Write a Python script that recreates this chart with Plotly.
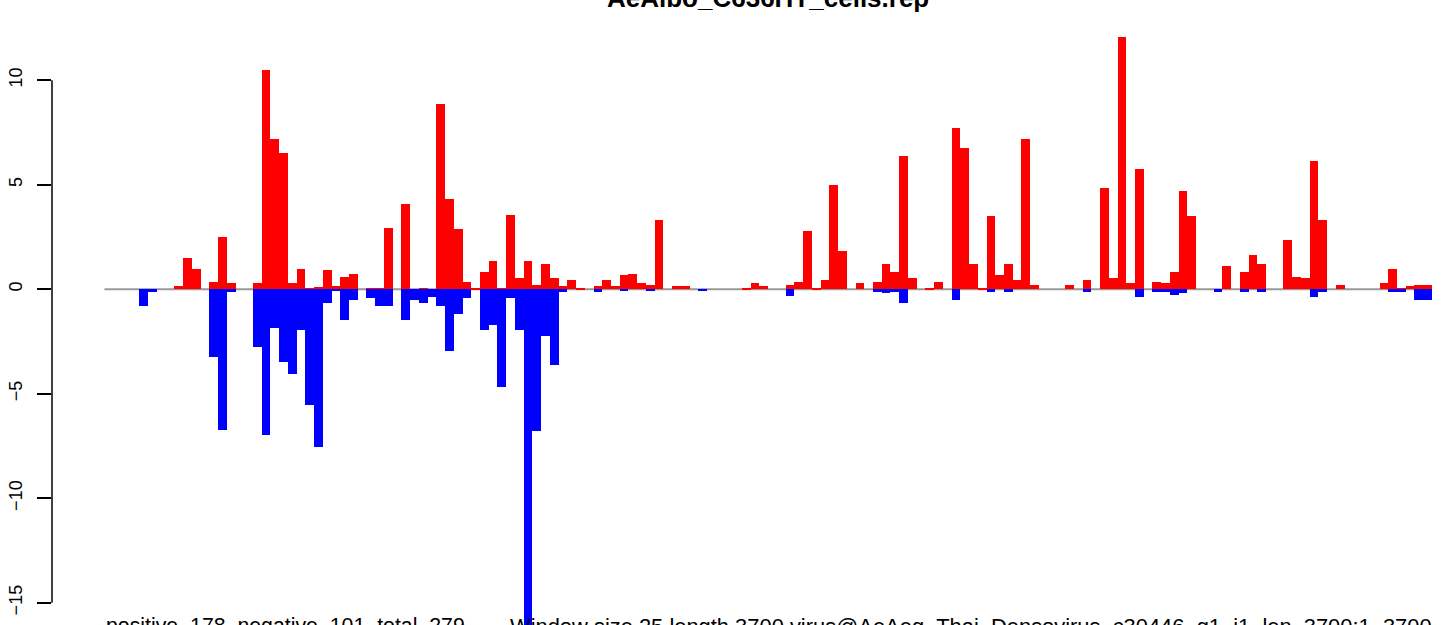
import plotly.graph_objects as go

# window index (window size 25, sequence length 3700)
windows = list(range(152))

positive = [
    0, 0, 0, 0, 0, 0, 0, 0, 0.16, 1.5,
    0.97, 0, 0.35, 2.5, 0.3, 0, 0, 0.3, 10.49, 7.19,
    6.52, 0.3, 0.97, 0.06, 0.1, 0.92, 0.16, 0.59, 0.73, 0,
    0.06, 0.06, 2.93, 0, 4.08, 0, 0.06, 0, 8.87, 4.32,
    2.89, 0.35, 0.06, 0.83, 1.35, 0.06, 3.55, 0.54, 1.35, 0.2,
    1.21, 0.54, 0.16, 0.45, 0.08, 0, 0.18, 0.46, 0.18, 0.7,
    0.75, 0.32, 0.22, 3.33, 0, 0.18, 0.18, 0, 0, 0,
    0, 0, 0, 0.08, 0.32, 0.18, 0, 0, 0.22, 0.37,
    2.77, 0.08, 0.46, 5.01, 1.85, 0, 0.32, 0, 0.37, 1.23,
    0.85, 6.4, 0.56, 0, 0.08, 0.37, 0, 7.74, 6.78, 1.23,
    0.08, 3.53, 0.7, 1.23, 0.46, 7.21, 0.22, 0, 0, 0,
    0.22, 0, 0.45, 0, 4.86, 0.55, 12.07, 0.3, 5.76, 0,
    0.36, 0.3, 0.83, 4.7, 3.51, 0, 0, 0, 1.11, 0,
    0.83, 1.64, 1.21, 0, 0, 2.36, 0.59, 0.54, 6.14, 3.32,
    0, 0.2, 0, 0, 0, 0, 0.3, 0.97, 0.06, 0.16,
    0.2, 0.2,
]

negative = [
    0, 0, 0, 0, -0.81, -0.15, 0, 0, 0, 0,
    0, 0, -3.22, -6.73, -0.13, 0, 0, -2.75, -6.97, -1.84,
    -3.5, -4.05, -1.95, -5.53, -7.53, -0.64, -0.1, -1.45, -0.51, 0,
    -0.42, -0.8, -0.8, 0, -1.45, -0.51, -0.65, -0.37, -0.8, -2.94,
    -1.17, -0.42, 0, -1.93, -1.69, -4.66, -0.4, -1.93, -17.0, -6.77,
    -2.22, -3.6, -0.13, 0, 0, 0, -0.15, 0, 0, -0.1,
    0, 0, -0.1, 0, 0, 0, 0, 0, -0.1, 0,
    0, 0, 0, 0, 0, 0, 0, 0, -0.33, 0,
    0, 0, 0, 0, 0, 0, 0, 0, -0.11, -0.16,
    -0.11, -0.64, 0, 0, 0, 0, 0, -0.49, 0, 0,
    0, -0.11, 0, -0.11, 0, 0, 0, 0, 0, 0,
    0, 0, -0.12, 0, 0, 0, 0, 0, -0.37, 0,
    -0.12, -0.13, -0.27, -0.18, 0, 0, 0, -0.13, 0, 0,
    -0.13, 0, -0.13, 0, 0, 0, 0, 0, -0.37, -0.13,
    0, 0, 0, 0, 0, 0, 0, -0.13, -0.13, 0,
    -0.51, -0.51,
]

y_ticks = [-15, -10, -5, 0, 5, 10]
title_text = "AeAlbo_C636HT_cells.rep"
stats_text = "positive  178  negative  101  total  279"
info_text = "Window size 25 length 3700 virus@AeAeg_Thai_Densovirus_c30446_g1_i1_len_3700:1..3700"

W, H = 1444, 625
ml = 52
px_per_unit_x = 8.733
bar_left_px = 104.5
x0 = -0.5 - (bar_left_px - ml) / px_per_unit_x
x1 = x0 + (W - ml) / px_per_unit_x

px_per_unit_y = 20.9
zero_px = 289.3
y_top = zero_px / px_per_unit_y
y_bot = -(H - zero_px) / px_per_unit_y

fig = go.Figure()
fig.add_trace(go.Bar(x=windows, y=positive, width=1.0,
                     marker=dict(color="#FF0000", line=dict(width=0)),
                     hoverinfo="y", name="positive"))
fig.add_trace(go.Bar(x=windows, y=negative, width=1.0,
                     marker=dict(color="#0000FF", line=dict(width=0)),
                     hoverinfo="y", name="negative"))

# grey baseline across the bar range
fig.add_shape(type="line", xref="x", yref="y",
              x0=windows[0] - 0.5, x1=windows[-1] + 0.5, y0=0, y1=0,
              line=dict(color="#999999", width=2), layer="below")
# R-style y axis line between first and last tick
fig.add_shape(type="line", xref="paper", yref="y",
              x0=0, x1=0, y0=y_ticks[0], y1=y_ticks[-1],
              line=dict(color="black", width=1.5))

fig.add_annotation(text="<b>" + title_text + "</b>", xref="paper", yref="paper",
                   x=(768 - ml) / (W - ml), y=1.0, xanchor="center", yanchor="middle",
                   yshift=2, showarrow=False,
                   font=dict(family="Liberation Sans, Arial", size=26, color="black"))
fig.add_annotation(text=stats_text, xref="paper", yref="paper",
                   x=(104 - ml) / (W - ml), y=0, xanchor="left", yanchor="top",
                   yshift=13, showarrow=False,
                   font=dict(family="Liberation Sans, Arial", size=21.3, color="black"))
fig.add_annotation(text=info_text, xref="paper", yref="paper",
                   x=(508 - ml) / (W - ml), y=0, xanchor="left", yanchor="top",
                   yshift=13, showarrow=False,
                   font=dict(family="Liberation Sans, Arial", size=21.9, color="black"))

fig.update_layout(
    width=W, height=H,
    margin=dict(l=ml, r=0, t=0, b=0),
    plot_bgcolor="white", paper_bgcolor="white",
    barmode="overlay", bargap=0, showlegend=False,
    xaxis=dict(range=[x0, x1], visible=False, fixedrange=True),
    yaxis=dict(range=[y_bot, y_top], tickmode="array", tickvals=y_ticks,
               ticktext=[str(v).replace("-", "\u2212") for v in y_ticks],
               ticks="outside", ticklen=14, tickwidth=1.5, tickcolor="black",
               tickangle=-90, showgrid=False, zeroline=False, showline=False,
               automargin=False, ticklabelstandoff=8,
               tickfont=dict(family="Liberation Sans, Arial", size=18, color="black")),
)

fig.write_html("out.html", config={"displayModeBar": False},
               post_script="document.body.style.margin='0';document.body.style.overflow='hidden';")
